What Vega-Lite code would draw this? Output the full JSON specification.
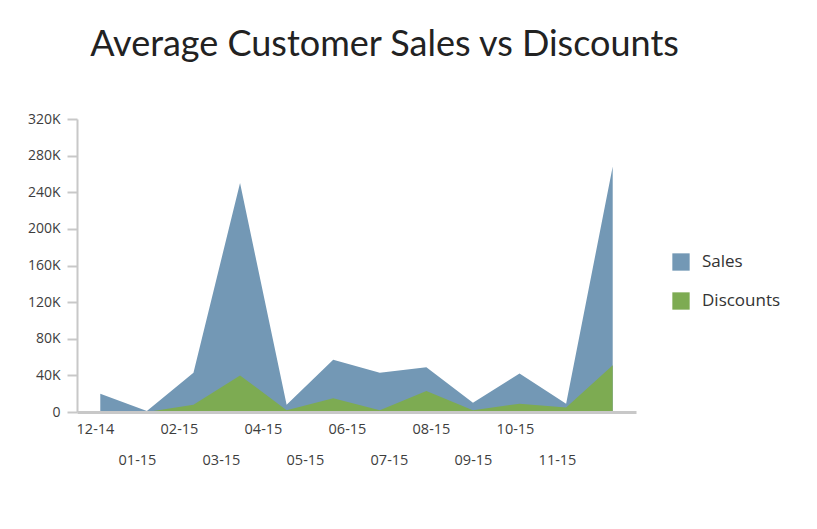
{
  "$schema": "https://vega.github.io/schema/vega-lite/v6.json",
  "autosize": {"type": "none"},
  "padding": {"left": 77, "top": 119, "right": 181, "bottom": 117},
  "width": 559,
  "height": 293,
  "background": "white",
  "title": {
    "text": "Average Customer Sales vs Discounts",
    "font": "Lato",
    "fontSize": 36,
    "fontWeight": "normal",
    "color": "#222222",
    "anchor": "middle",
    "frame": "group",
    "dx": 28,
    "baseline": "alphabetic",
    "offset": 20
  },
  "data": {
    "values": [
      {"month": "12-14", "series": "Sales", "value": 20000},
      {"month": "01-15", "series": "Sales", "value": 1000},
      {"month": "02-15", "series": "Sales", "value": 43000},
      {"month": "03-15", "series": "Sales", "value": 250000},
      {"month": "04-15", "series": "Sales", "value": 8000},
      {"month": "05-15", "series": "Sales", "value": 57000},
      {"month": "06-15", "series": "Sales", "value": 43000},
      {"month": "07-15", "series": "Sales", "value": 49000},
      {"month": "08-15", "series": "Sales", "value": 10000},
      {"month": "09-15", "series": "Sales", "value": 42000},
      {"month": "10-15", "series": "Sales", "value": 9000},
      {"month": "11-15", "series": "Sales", "value": 268000},
      {"month": "12-14", "series": "Discounts", "value": 0},
      {"month": "01-15", "series": "Discounts", "value": 0},
      {"month": "02-15", "series": "Discounts", "value": 8000},
      {"month": "03-15", "series": "Discounts", "value": 40000},
      {"month": "04-15", "series": "Discounts", "value": 2000},
      {"month": "05-15", "series": "Discounts", "value": 15000},
      {"month": "06-15", "series": "Discounts", "value": 2000},
      {"month": "07-15", "series": "Discounts", "value": 23000},
      {"month": "08-15", "series": "Discounts", "value": 2000},
      {"month": "09-15", "series": "Discounts", "value": 9000},
      {"month": "10-15", "series": "Discounts", "value": 5000},
      {"month": "11-15", "series": "Discounts", "value": 51000}
    ]
  },
  "encoding": {
    "x": {
      "field": "month",
      "type": "ordinal",
      "sort": null,
      "scale": {"type": "point", "padding": 0.5},
      "axis": {
        "title": null,
        "ticks": false,
        "domainColor": "#c8c8c8",
        "domainWidth": 3,
        "labelAngle": 0,
        "labelFont": "Open Sans",
        "labelFontSize": 14.5,
        "labelColor": "#3d3d3d",
        "labelPadding": 10,
        "labelLineHeight": 31,
        "labelOverlap": false,
        "labelBound": false,
        "labelOffset": {"expr": "-5.3 - 50.4 * datum.index"},
        "labelExpr": "indexof(['01-15','03-15','05-15','07-15','09-15','11-15'], datum.value) >= 0 ? ['', datum.label] : datum.label",
        "zindex": 1
      }
    },
    "y": {
      "field": "value",
      "type": "quantitative",
      "stack": null,
      "scale": {"domain": [0, 320000]},
      "axis": {
        "title": null,
        "values": [0, 40000, 80000, 120000, 160000, 200000, 240000, 280000, 320000],
        "grid": false,
        "domainColor": "#c8c8c8",
        "domainWidth": 2,
        "tickColor": "#c8c8c8",
        "tickWidth": 2,
        "tickSize": 10,
        "labelPadding": 7,
        "labelFont": "Open Sans",
        "labelFontSize": 14,
        "labelColor": "#3d3d3d",
        "labelExpr": "datum.value == 0 ? '0' : (datum.value / 1000) + 'K'"
      }
    },
    "color": {
      "field": "series",
      "type": "nominal",
      "scale": {"domain": ["Sales", "Discounts"], "range": ["#7398b5", "#7dab52"]},
      "legend": {
        "title": null,
        "orient": "none",
        "legendX": 595,
        "legendY": 134,
        "padding": 0,
        "symbolType": "square",
        "symbolSize": 300,
        "symbolStrokeWidth": 0,
        "symbolOpacity": 1,
        "rowPadding": 21,
        "labelOffset": 12,
        "labelFont": "Open Sans",
        "labelFontSize": 17,
        "labelColor": "#333333"
      }
    }
  },
  "layer": [
    {
      "transform": [{"filter": "datum.series == 'Sales'"}],
      "mark": {"type": "area", "opacity": 1}
    },
    {
      "transform": [{"filter": "datum.series == 'Discounts'"}],
      "mark": {"type": "area", "opacity": 1}
    }
  ],
  "config": {"view": {"stroke": null}}
}
